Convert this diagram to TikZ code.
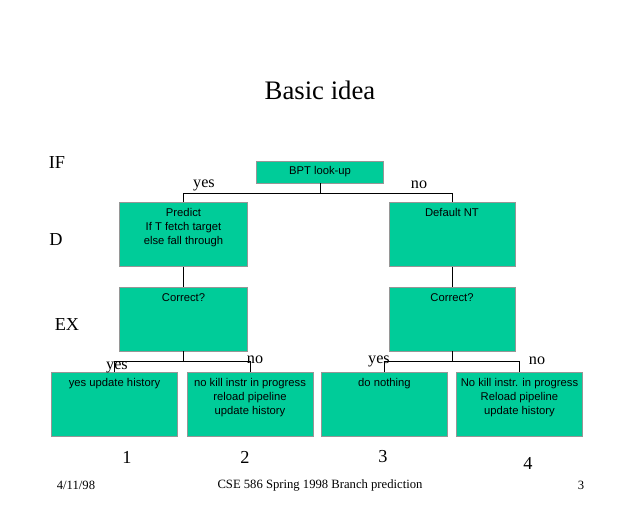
\documentclass[tikz,border=0pt]{standalone}
\usepackage{fontspec}
\setmainfont{Liberation Serif}
\setsansfont{Liberation Sans}
\usepackage{xcolor}
\usepackage{tikz}
\definecolor{boxgreen}{RGB}{0,204,153}
\definecolor{boxedge}{RGB}{150,150,150}

\begin{document}
\begin{tikzpicture}[x=0.025cm, y=-0.025cm,
  stagebox/.style={draw=boxedge, fill=boxgreen, line width=0.6pt,
    minimum width=3.15cm, minimum height=1.6cm, inner sep=0pt},
  smallbox/.style={stagebox, minimum width=3.18cm, minimum height=0.55cm},
  boxtext/.style={anchor=north, align=center, inner sep=2.5pt, yshift=-2pt,
    font=\sffamily\fontsize{8}{10}\selectfont},
  branch/.style={draw, line width=0.6pt},
  answer/.style={font=\fontsize{11.5}{12}\selectfont, inner sep=0pt},
  stagelabel/.style={font=\fontsize{13}{14}\selectfont, inner sep=0pt},
  footer/.style={font=\fontsize{9}{10}\selectfont, inner sep=0pt},
]
\useasboundingbox (0,0) rectangle (640,512);

% ── Title and pipeline stages ────────────────────────────────────────────────
\node[font=\fontsize{19}{21}\selectfont] (title) at (320,90) {Basic idea};
\node[stagelabel] (stIF) at (57,163) {IF};
\node[stagelabel] (stD)  at (56,240) {D};
\node[stagelabel] (stEX) at (67,325) {EX};

% ── Decision boxes ───────────────────────────────────────────────────────────
\node[smallbox, label={[boxtext, inner sep=1pt, yshift=-1pt]north:BPT look-up}] (bpt) at (320,172) {};
\node[stagebox, minimum width=3.22cm,
  label={[boxtext]north:{Predict\\If T fetch target\\else fall through}}] (predict) at (183.5,234.5) {};
\node[stagebox, label={[boxtext]north:Default NT}] (defnt) at (452,234.5) {};
\node[stagebox, minimum width=3.22cm,
  label={[boxtext]north:Correct?}] (corrL) at (183.5,319) {};
\node[stagebox, label={[boxtext]north:Correct?}] (corrR) at (452,319) {};

% ── Outcome boxes ────────────────────────────────────────────────────────────
\node[stagebox, label={[boxtext]north:yes update history}] (out1) at (114.5,404) {};
\node[stagebox, label={[boxtext]north:{no kill instr in progress\\reload pipeline\\update history}}] (out2) at (250,404) {};
\node[stagebox, label={[boxtext]north:do nothing}] (out3) at (384.5,404) {};
\node[stagebox, label={[boxtext]north:{No kill instr. in progress\\Reload pipeline\\update history}}] (out4) at (519.5,404) {};

% ── Connectors ───────────────────────────────────────────────────────────────
\draw[branch] (bpt.south) -- ++(0,10) -| (predict.north);
\draw[branch] (bpt.south) -- ++(0,10) -| (defnt.north);
\draw[branch] (predict.south) -- (corrL.north);
\draw[branch] (defnt.south) -- (corrR.north);
\draw[branch] (corrL.south) -- ++(0,10) -| (out1.north);
\draw[branch] (corrL.south) -- ++(0,10) -| (out2.north);
\draw[branch] (corrR.south) -- ++(0,10) -| (out3.north);
\draw[branch] (corrR.south) -- ++(0,10) -| (out4.north);

% ── Branch answers ───────────────────────────────────────────────────────────
\node[answer] (yesT) at (204,185) {yes};
\node[answer] (noT)  at (419,185) {no};
\node[answer] (yesL) at (117,367) {yes};
\node[answer] (noL)  at (255,360) {no};
\node[answer] (yesR) at (379,361) {yes};
\node[answer] (noR)  at (537,361) {no};

% ── Case numbers ─────────────────────────────────────────────────────────────
\node[stagelabel] (num1) at (127,457) {1};
\node[stagelabel] (num2) at (245,457) {2};
\node[stagelabel] (num3) at (383,457) {3};
\node[stagelabel] (num4) at (528,463) {4};

% ── Footer ───────────────────────────────────────────────────────────────────
\node[footer] (date)   at (76,485)  {4/11/98};
\node[footer] (course) at (320,485) {CSE 586 Spring 1998 Branch prediction};
\node[footer] (page)   at (581,485) {3};

\end{tikzpicture}
\end{document}
